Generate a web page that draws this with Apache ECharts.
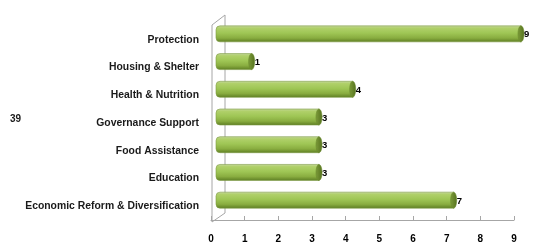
<!DOCTYPE html>
<html>
<head>
<meta charset="utf-8">
<script src="https://cdn.jsdelivr.net/npm/echarts@6/dist/echarts.min.js"></script>
<style>
  html, body { margin: 0; padding: 0; background: #fff; }
  #chart { width: 535px; height: 244px; }
</style>
</head>
<body>
<div id="chart"></div>
<script>
// data, top to bottom
const categories = ['Protection', 'Housing & Shelter', 'Health & Nutrition', 'Governance Support',
  'Food Assistance', 'Education', 'Economic Reform & Diversification'];
const values = [9, 1, 4, 3, 3, 3, 7];
const xTicks = [0, 1, 2, 3, 4, 5, 6, 7, 8, 9];
const totalLabel = '39';

const L = 211, R = 21, T = 26, B = 22; // grid
const DX = 6, DY = -6; // 3d depth shift of the bars
const FONT = 'Liberation Sans';

let myChart = echarts.init(document.getElementById('chart'));

const barData = values.map((v, i) => [v, i]);

myChart.setOption({
  animation: false,
  grid: { left: L, right: R, top: T, bottom: B, containLabel: false },
  xAxis: {
    type: 'value',
    min: xTicks[0],
    max: xTicks[xTicks.length - 1],
    interval: 1,
    axisLine: { show: true, lineStyle: { color: '#a6a6a6', width: 1 } },
    axisTick: { show: true, inside: true, length: 4, lineStyle: { color: '#a6a6a6' } },
    splitLine: { show: false },
    axisLabel: { color: '#000', fontWeight: 'bold', fontSize: 10, fontFamily: FONT, margin: 14 }
  },
  yAxis: {
    type: 'category',
    inverse: true,
    data: categories,
    axisLine: { show: false },
    axisTick: { show: false },
    axisLabel: { color: '#1a1a1a', fontWeight: 'bold', fontSize: 10.4, fontFamily: FONT, margin: 12 }
  },
  graphic: [
    { // left wall of the 3d box
      type: 'polyline',
      shape: { points: [[L + 1, 244 - B], [L + 1, T - 1], [L + 14, T - 11], [L + 14, 244 - B - 9], [L + 1, 244 - B]] },
      style: { stroke: '#a6a6a6', fill: 'none', lineWidth: 1 },
      z: 1
    },
    {
      type: 'text',
      left: 10, top: 114,
      style: { text: totalLabel, fill: '#1a1a1a', font: 'bold 10px ' + FONT }
    }
  ],
  series: [
    {
      type: 'custom',
      data: barData,
      encode: { x: 0, y: 1 },
      z: 3,
      renderItem: function (params, api) {
        const v = api.value(0);
        const c = api.value(1);
        const end = api.coord([v, c]);
        const start = api.coord([0, c]);
        const h = 16;
        const x0 = start[0] + DX - 1;
        const x1 = end[0] + DX + 1;
        const cy = end[1] + DY;
        return {
          type: 'group',
          children: [
            {
              type: 'rect',
              shape: { x: x0, y: cy - h / 2, width: x1 - x0, height: h, r: [4, 0, 0, 4] },
              style: {
                fill: new echarts.graphic.LinearGradient(0, 0, 0, 1, [
                  { offset: 0, color: '#c6d8a0' },
                  { offset: 0.15, color: '#b0d06a' },
                  { offset: 0.45, color: '#9fc655' },
                  { offset: 0.75, color: '#89ad40' },
                  { offset: 1, color: '#5c7c22' }
                ]),
                stroke: '#7d9a45',
                lineWidth: 0.6
              }
            },
            {
              type: 'ellipse',
              shape: { cx: x1, cy: cy, rx: 3, ry: h / 2 },
              style: {
                fill: new echarts.graphic.LinearGradient(0, 0, 1, 0, [
                  { offset: 0, color: '#7d9c3a' },
                  { offset: 1, color: '#55721e' }
                ]),
                stroke: '#6a8a2e',
                lineWidth: 0.6
              }
            },
            {
              type: 'text',
              style: {
                text: String(v),
                x: x1 + 3,
                y: cy + 1,
                textVerticalAlign: 'middle',
                fill: '#000',
                font: 'bold 9.5px ' + FONT
              }
            }
          ]
        };
      }
    }
  ]
});

window.onresize = function () {
  myChart.resize();
};
</script>
</body>
</html>
